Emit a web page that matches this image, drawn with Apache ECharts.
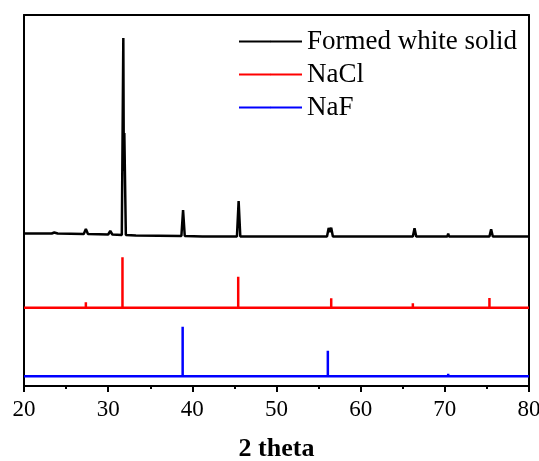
<!DOCTYPE html>
<html>
<head>
<meta charset="utf-8">
<script src="https://cdn.jsdelivr.net/npm/echarts@6/dist/echarts.min.js"></script>
<style>
  html, body { margin: 0; padding: 0; background: #fff; }
  #xrd { width: 539px; height: 461px; }
</style>
</head>
<body>
<div id="xrd"></div>
<script>
// 2 theta ticks
const X_MIN = 20
const X_MAX = 80
const X_STEP = 10
// arbitrary intensity scale (stacked offsets)
const Y_MAX = 371

const seriesNames = ['Formed white solid', 'NaCl', 'NaF']
const seriesColors = ['#000000', '#ff0000', '#0000ff']

// measured trace of the formed white solid, [2theta, intensity]
const solidTrace = [
  [20, 152.5], [23.3, 152.5], [23.6, 153.5], [24, 152.5], [27.1, 152], [27.35, 157], [27.6, 152],
  [30.0, 151.5], [30.25, 155], [30.5, 151.5], [31.62, 151], [31.8, 348], [31.86, 215], [31.92, 253],
  [32.1, 151], [33.3, 150.5], [33.4, 152], [33.5, 150.5], [38.7, 150], [38.9, 176], [39.1, 150],
  [41.2, 149.5], [41.3, 151], [41.4, 149.5], [45.3, 149.5], [45.5, 185], [45.7, 149.5],
  [52.1, 149.5], [52.2, 151.5], [52.3, 149.5], [53.7, 149.5], [53.8, 151.5], [53.9, 149.5],
  [56.0, 149.5], [56.2, 158], [56.35, 154], [56.5, 158.3], [56.7, 149.5], [66.2, 149.5],
  [66.4, 157.7], [66.6, 149.5], [70.3, 149.5], [70.4, 152.5], [70.5, 149.5], [75.3, 149.5],
  [75.5, 156.7], [75.7, 149.5], [80, 149.5]
]

// reference patterns: baseline offset and stick peaks [2theta, top]
const naclBase = 78.3
const naclPeaks = [[27.35, 83.7], [31.7, 128.7], [33.8, 79.5], [45.45, 109.3], [53.9, 80],
  [56.5, 87.7], [66.2, 82.7], [73.1, 79.5], [75.3, 88]]
const nafBase = 9.7
const nafPeaks = [[33.5, 11], [38.85, 59.3], [56.1, 35.3], [70.4, 12.3], [75.2, 10.5]]

function sticks (base, peaks) {
  let pts = [[X_MIN, base]]
  peaks.forEach((p) => {
    pts.push([p[0], base], [p[0], p[1]], [p[0], base])
  })
  pts.push([X_MAX, base])
  return pts
}

const traces = [solidTrace, sticks(naclBase, naclPeaks), sticks(nafBase, nafPeaks)]

let myChart = echarts.init(document.getElementById('xrd'))
const FONT = 'Liberation Serif'
const frame = { show: true, onZero: false, lineStyle: { color: '#000', width: 2 } }

myChart.setOption({
  animation: false,
  grid: { left: 24, right: 10, top: 15, bottom: 75, outerBoundsMode: 'none', containLabel: false },
  legend: {
    data: seriesNames,
    orient: 'vertical',
    left: 238,
    top: 28,
    padding: 0,
    itemWidth: 63,
    itemHeight: 2,
    itemGap: 6,
    selectedMode: false,
    textStyle: { fontSize: 27, fontFamily: FONT, color: '#000' }
  },
  xAxis: [
    {
      type: 'value',
      min: X_MIN,
      max: X_MAX,
      interval: X_STEP,
      position: 'bottom',
      axisLine: frame,
      axisTick: { show: true, inside: false, length: 6, lineStyle: { color: '#000', width: 2 } },
      minorTick: { show: true, splitNumber: 2, length: 3, lineStyle: { color: '#000', width: 2 } },
      axisLabel: { fontSize: 23, fontFamily: FONT, color: '#000', margin: 12 },
      splitLine: { show: false },
      name: '2 theta',
      nameLocation: 'middle',
      nameGap: 50,
      nameTextStyle: { fontSize: 26, fontWeight: 'bold', fontFamily: FONT, color: '#000' }
    },
    {
      type: 'value',
      min: X_MIN,
      max: X_MAX,
      position: 'top',
      axisLine: frame,
      axisTick: { show: false },
      axisLabel: { show: false },
      splitLine: { show: false }
    }
  ],
  yAxis: [
    {
      type: 'value',
      min: 0,
      max: Y_MAX,
      position: 'left',
      axisLine: frame,
      axisTick: { show: false },
      axisLabel: { show: false },
      splitLine: { show: false }
    },
    {
      type: 'value',
      min: 0,
      max: Y_MAX,
      position: 'right',
      axisLine: frame,
      axisTick: { show: false },
      axisLabel: { show: false },
      splitLine: { show: false }
    }
  ],
  series: seriesNames.map((name, i) => ({
    name: name,
    type: 'line',
    xAxisIndex: 0,
    yAxisIndex: 0,
    symbol: 'none',
    showSymbol: false,
    color: seriesColors[i],
    lineStyle: { width: 2.5, color: seriesColors[i] },
    data: traces[i]
  }))
})
</script>
</body>
</html>
